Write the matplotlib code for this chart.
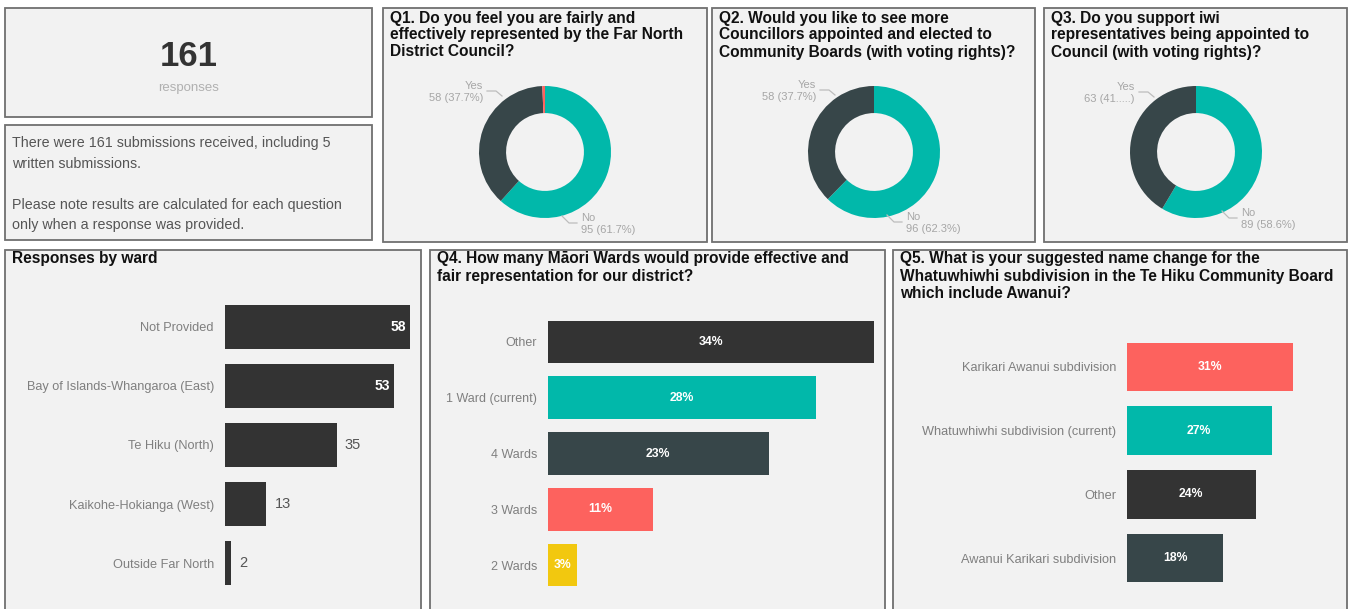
import matplotlib
matplotlib.use("Agg")
import matplotlib.pyplot as plt
from matplotlib.patches import Rectangle

plt.rcParams['font.family'] = ['Liberation Sans', 'DejaVu Sans']

# ---- data ----
total_responses = 161

ward_names = ["Not Provided", "Bay of Islands-Whangaroa (East)", "Te Hiku (North)",
              "Kaikohe-Hokianga (West)", "Outside Far North"]
ward_counts = [58, 53, 35, 13, 2]

q4_options = ["Other", "1 Ward (current)", "4 Wards", "3 Wards", "2 Wards"]
q4_pct = [34, 28, 23, 11, 3]

q5_options = ["Karikari Awanui subdivision", "Whatuwhiwhi subdivision (current)",
              "Other", "Awanui Karikari subdivision"]
q5_pct = [31, 27, 24, 18]

# donuts: No, Yes, (no answer)
q1_values = [95, 58, 1]
q2_values = [96, 58]
q3_values = [89, 63]
q1_labels = ["95 (61.7%)", "58 (37.7%)"]
q2_labels = ["96 (62.3%)", "58 (37.7%)"]
q3_labels = ["89 (58.6%)", "63 (41.....)"]

TEAL = "#01b8aa"
SLATE = "#374649"
RED = "#fd625e"
YELLOW = "#f2c80f"
DARK = "#333333"
LABEL = "#7f7f7f"
LIGHT = "#a6a6a6"

W, H = 1352, 609
fig = plt.figure(figsize=(W / 100, H / 100), dpi=100)
fig.patch.set_facecolor("white")


def px_axes(x0, y0, x1, y1, **kw):
    return fig.add_axes([x0 / W, 1 - y1 / H, (x1 - x0) / W, (y1 - y0) / H], **kw)


# overlay in pixel coords for panels and text
ov = fig.add_axes([0, 0, 1, 1], zorder=0)
ov.set_xlim(0, W)
ov.set_ylim(H, 0)
ov.axis("off")

panels = [(5, 8, 372, 117), (5, 125, 372, 240), (383, 8, 707, 242), (712, 8, 1035, 242),
          (1044, 8, 1347, 242), (5, 250, 421, 615), (430, 250, 885, 615), (893, 250, 1347, 615)]
for x0, y0, x1, y1 in panels:
    ov.add_patch(Rectangle((x0, y0), x1 - x0, y1 - y0, facecolor="#f2f2f2",
                           edgecolor="#707070", lw=1.3))

txt = fig.add_axes([0, 0, 1, 1], zorder=5)
txt.set_xlim(0, W)
txt.set_ylim(H, 0)
txt.axis("off")

# KPI card
txt.text(189, 56, str(total_responses), ha="center", va="center", fontsize=25,
         weight="bold", color=DARK)
txt.text(189, 88, "responses", ha="center", va="center", fontsize=9.5, color="#b0b0b0")

note = ["There were 161 submissions received, including 5", "written submissions.", "",
        "Please note results are calculated for each question",
        "only when a response was provided."]
for i, line in enumerate(note):
    txt.text(12, 143 + 20.6 * i, line, ha="left", va="center", fontsize=10.3, color="#555555")


def title(x, y, lines, step=17):
    for i, line in enumerate(lines):
        txt.text(x, y + step * i, line, ha="left", va="center", fontsize=11.2,
                 weight="bold", color="#111111")


title(390, 18, ["Q1. Do you feel you are fairly and", "effectively represented by the Far North",
                "District Council?"])
title(719, 18, ["Q2. Would you like to see more", "Councillors appointed and elected to",
                "Community Boards (with voting rights)?"])
title(1051, 18, ["Q3. Do you support iwi", "representatives being appointed to",
                 "Council (with voting rights)?"])
title(12, 259, ["Responses by ward"])
title(437, 259, ["Q4. How many M\u0101ori Wards would provide effective and",
                 "fair representation for our district?"])
title(900, 259, ["Q5. What is your suggested name change for the",
                 "Whatuwhiwhi subdivision in the Te Hiku Community Board",
                 "which include Awanui?"])


# ---- donuts ----
def donut(cx, cy, values, colors, labels, yes_xy, no_xy):
    r = 66
    ax = px_axes(cx - r, cy - r, cx + r, cy + r, zorder=3)
    ax.pie(values, colors=colors, startangle=90, counterclock=False,
           wedgeprops=dict(width=0.41, linewidth=0))
    ax.set_xlim(-1, 1)
    ax.set_ylim(-1, 1)
    ax.set_aspect("equal")
    # Yes label (upper left)
    yx, yy = yes_xy
    txt.text(yx, yy, "Yes", ha="right", va="center", fontsize=8, color=LIGHT)
    txt.text(yx, yy + 12, labels[1], ha="right", va="center", fontsize=8, color=LIGHT)
    txt.plot([yx + 4, yx + 13, yx + 19], [yy + 5, yy + 5, yy + 10], color="#bdbdbd", lw=0.9)
    # No label (lower right)
    nx, ny = no_xy
    txt.text(nx, ny, "No", ha="left", va="center", fontsize=8, color=LIGHT)
    txt.text(nx, ny + 12, labels[0], ha="left", va="center", fontsize=8, color=LIGHT)
    txt.plot([nx - 19, nx - 12, nx - 4], [ny - 2, ny + 5, ny + 5], color="#bdbdbd", lw=0.9)


donut(545, 152, q1_values, [TEAL, SLATE, RED], q1_labels, (483, 86), (581, 218))
donut(874, 152, q2_values, [TEAL, SLATE], q2_labels, (816, 85), (906, 217))
donut(1196, 152, q3_values, [TEAL, SLATE], q3_labels, (1135, 87), (1241, 213))


# ---- bar charts ----
def bars(ax, names, values, colors, xmax, pad, fs):
    ypos = range(len(names))
    ax.barh(ypos, values, height=0.76, color=colors)
    ax.set_xlim(0, xmax)
    ax.set_ylim(len(names) - 0.5, -0.5)
    ax.set_yticks(list(ypos))
    ax.set_yticklabels(names, fontsize=fs, color=LABEL)
    ax.tick_params(axis="y", length=0, pad=pad)
    ax.set_xticks([])
    for s in ax.spines.values():
        s.set_visible(False)
    ax.patch.set_alpha(0)


ax_w = px_axes(225, 297.5, 410, 592.5, zorder=3)
bars(ax_w, ward_names, ward_counts, DARK, max(ward_counts), 8, 9.2)
for i, v in enumerate(ward_counts):
    if v >= 0.8 * max(ward_counts):
        ax_w.text(v - 1.2, i, str(v), ha="right", va="center", color="white",
                  weight="bold", fontsize=10)
    else:
        ax_w.text(v + 2.5, i, str(v), ha="left", va="center", color="#555555",
                  fontsize=10.5)

ax_4 = px_axes(548, 314, 874, 593, zorder=3)
bars(ax_4, q4_options, q4_pct, [DARK, TEAL, SLATE, RED, YELLOW], max(q4_pct), 8, 9)
for i, v in enumerate(q4_pct):
    ax_4.text(v / 2, i, f"{v}%", ha="center", va="center", color="white",
              weight="bold", fontsize=8.8)

ax_5 = px_axes(1127, 335, 1293, 590, zorder=3)
bars(ax_5, q5_options, q5_pct, [RED, TEAL, DARK, SLATE], max(q5_pct), 8, 9.2)
for i, v in enumerate(q5_pct):
    ax_5.text(v / 2, i, f"{v}%", ha="center", va="center", color="white",
              weight="bold", fontsize=8.8)

fig.savefig("out.png", dpi=100, facecolor=fig.get_facecolor())
